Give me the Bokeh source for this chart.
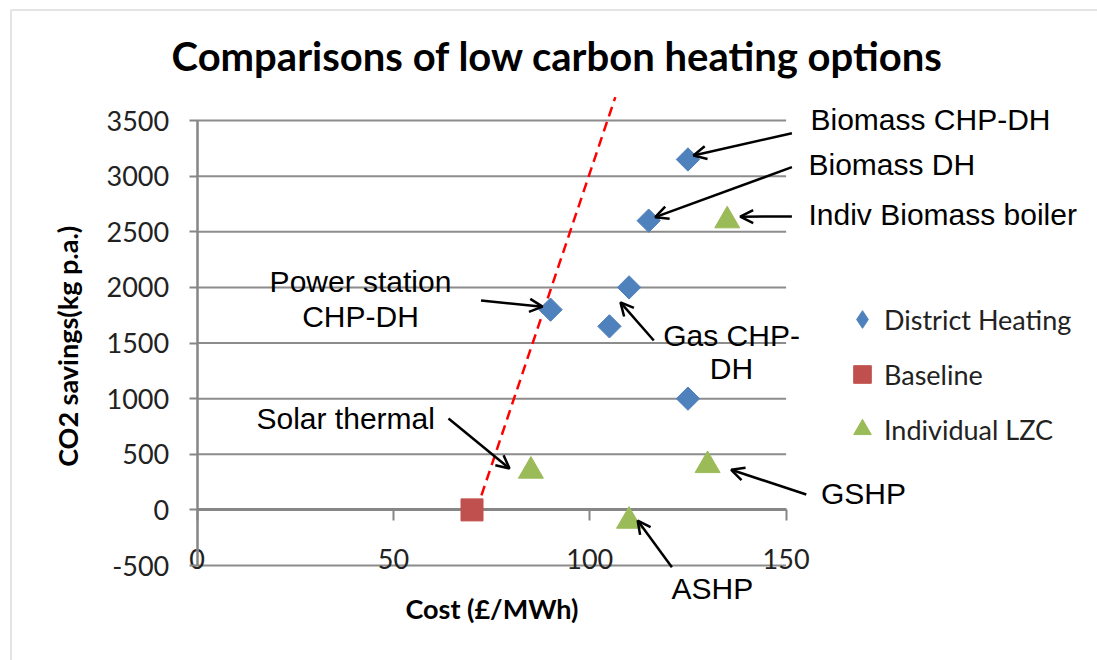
import numpy as np
from bokeh.plotting import figure
from bokeh.models import (Range1d, FixedTicker, LinearAxis, Label, Arrow, OpenHead,
                          Legend, LegendItem, BoxAnnotation, Grid)
from bokeh.embed import file_html
from bokeh.resources import INLINE

# ---------------- data ----------------
title_text = "Comparisons of low carbon heating options"
x_title = "Cost (£/MWh)"
y_title = "CO2 savings(kg  p.a.)"
x_ticks = [0, 50, 100, 150]
y_ticks = [-500, 0, 500, 1000, 1500, 2000, 2500, 3000, 3500]
y_tick_text = {-500: "-500"}

series_names = ["District Heating", "Baseline", "Individual LZC"]

dh_cost = [125, 115, 110, 90, 105, 125]
dh_co2 = [3150, 2600, 2000, 1800, 1650, 1000]

base_cost = [70]
base_co2 = [0]

lzc_cost = [135, 85, 130, 110]
lzc_co2 = [2600, 350, 400, -100]

threshold_cost = [72.4, 106.5]
threshold_co2 = [130, 3710]

annotation_texts = ["Biomass CHP-DH", "Biomass DH", "Indiv Biomass boiler",
                    "Power station", "CHP-DH", "Gas CHP-", "DH",
                    "Solar thermal", "GSHP", "ASHP"]

# ---------------- layout / style ----------------
W, H = 1097, 660
X0_PX, PX_PER_X = 196.7, 3.926      # canvas pixel of cost 0, pixels per cost unit
Y0_PX, PX_PER_Y = 509.4, 0.11125    # canvas pixel of CO2 0, pixels per CO2 unit


def dx(px):
    return (px - X0_PX) / PX_PER_X


def dy(py):
    return (Y0_PX - py) / PX_PER_Y


FONT_UI = "Lato"
FONT_NOTE = "Liberation Sans"
NOTE_SIZE = 30
TITLE_SIZE = 40
AXIS_TITLE_SIZE = 27
BASE_SHIFT = 0.41                   # renderer's baseline shift, in em
GRID = "#8c8c8c"
AXIS = "#868686"

# label placement in canvas pixels (x, baseline y, align)
note_place = [
    (810, 131, "left"),
    (808, 176.7, "left"),
    (808, 226, "left"),
    (360, 293.3, "center"),
    (360, 328, "center"),
    (662.7, 347.3, "left"),
    (731, 380, "center"),
    (256, 430, "left"),
    (820.4, 505, "left"),
    (671, 600.7, "left"),
]

# arrows: tail (canvas px), target series & index, head offset from point (px)
arrow_place = [
    ((791.4, 132.7), "dh", 0, (5.5, -4)),
    ((791.4, 166.7), "dh", 1, (6.5, -3.5)),
    ((791.4, 216.0), "lzc", 0, (13, -4)),
    ((480.5, 300.0), "dh", 3, (-8, -3)),
    ((653.3, 340.0), "dh", 2, (-8.6, 15)),
    ((448.0, 418.0), "lzc", 1, (-21.4, -2.5)),
    ((805.8, 494.0), "lzc", 2, (23.6, 4.4)),
    ((671.4, 566.7), "lzc", 3, (8.6, -0.5)),
]

p = figure(width=W, height=H, output_backend="svg", toolbar_location=None,
           x_range=Range1d(dx(0), dx(W)), y_range=Range1d(dy(H), dy(0)),
           x_axis_location=None, y_axis_location=None,
           min_border=0, min_border_left=0, min_border_right=0,
           min_border_top=0, min_border_bottom=0,
           background_fill_color="white", border_fill_color="white")
p.outline_line_color = None
for obj in list(p.center) + list(p.renderers):
    if isinstance(obj, Grid):
        obj.visible = False

# chart-area border (top and left edges visible)
p.add_layout(BoxAnnotation(left=dx(10.5), top=dy(9.5), right=dx(W + 60), bottom=dy(H + 60),
                           fill_color=None, line_color="#a6a6a6", line_width=2))

# horizontal gridlines drawn from the tick values across the cost range
n = len(y_ticks)
grid = p.segment(x0=[x_ticks[0]] * n, x1=[x_ticks[-1]] * n, y0=y_ticks, y1=y_ticks,
                 line_color=GRID, line_width=2)
grid.level = "underlay"

# y axis at cost = 0
ya = LinearAxis(fixed_location=0, ticker=FixedTicker(ticks=y_ticks), bounds=(-500, 3500),
                major_label_overrides=y_tick_text,
                axis_line_color=AXIS, axis_line_width=2.5,
                major_tick_line_color=AXIS, major_tick_line_width=2,
                major_tick_in=0, major_tick_out=8, minor_tick_line_color=None,
                major_label_text_font=FONT_UI, major_label_text_font_size="27px",
                major_label_text_color="#222222", major_label_standoff=20)
p.add_layout(ya, "left")

# y axis title, centred on the plotted CO2 span
p.add_layout(Label(x=dx(78.5 - BASE_SHIFT * AXIS_TITLE_SIZE), y=(y_ticks[0] + y_ticks[-1]) / 2,
                   text=y_title, angle=np.pi / 2, text_align="center",
                   text_baseline="alphabetic", text_font=FONT_UI, text_font_style="bold",
                   text_font_size=f"{AXIS_TITLE_SIZE}px", text_color="black"))

# horizontal axis crossing at CO2 = 0; its labels sit at the bottom of the plot area
xa = LinearAxis(fixed_location=0, ticker=FixedTicker(ticks=x_ticks), bounds=(0, 150),
                axis_line_color=AXIS, axis_line_width=3,
                major_tick_line_color=AXIS, major_tick_line_width=2,
                major_tick_in=0, major_tick_out=11, minor_tick_line_color=None,
                major_label_text_font=FONT_UI, major_label_text_font_size="27px",
                major_label_text_color="#222222", major_label_standoff=28,
                axis_label=x_title, axis_label_text_font=FONT_UI,
                axis_label_text_font_style="bold",
                axis_label_text_font_size=f"{AXIS_TITLE_SIZE}px",
                axis_label_text_color="black", axis_label_standoff=20)
p.add_layout(xa, "below")

# threshold dashed line
p.line(threshold_cost, threshold_co2, line_color="#ff0000", line_width=2.5,
       line_dash="10 6")

# series
r_dh = p.scatter(dh_cost, dh_co2, marker="square", angle=np.pi / 4, size=16.5,
                 fill_color="#4F81BD", line_color="#4F81BD")
r_base = p.scatter(base_cost, base_co2, marker="square", size=22,
                   fill_color="#C0504D", line_color="#C0504D")
r_lzc = p.scatter(lzc_cost, lzc_co2, marker="triangle", size=25,
                  fill_color="#9BBB59", line_color="#9BBB59")
for r in (r_dh, r_base, r_lzc):
    r.level = "annotation"
# legend key for the diamond series (the legend does not rotate markers)
r_dh_key = p.scatter(dh_cost, dh_co2, marker="diamond", size=20,
                     fill_color="#4F81BD", line_color="#4F81BD", visible=False)

legend = Legend(items=[LegendItem(label=series_names[0], renderers=[r_dh_key]),
                       LegendItem(label=series_names[1], renderers=[r_base]),
                       LegendItem(label=series_names[2], renderers=[r_lzc])],
                location=(840, H - 454), orientation="vertical",
                glyph_width=44, glyph_height=50, label_height=50,
                spacing=5, label_standoff=0, padding=0, margin=0,
                border_line_color=None, background_fill_alpha=0,
                label_text_font=FONT_UI, label_text_font_size="27px",
                label_text_color="#222222")
p.add_layout(legend, "center")

# title
p.add_layout(Label(x=dx(557), y=dy(71.7 - BASE_SHIFT * TITLE_SIZE), text=title_text,
                   text_align="center", text_baseline="alphabetic", text_font=FONT_UI,
                   text_font_style="bold", text_font_size=f"{TITLE_SIZE}px",
                   text_color="black"))

# annotations
for txt, (lx, ly, al) in zip(annotation_texts, note_place):
    p.add_layout(Label(x=dx(lx), y=dy(ly - BASE_SHIFT * NOTE_SIZE), text=txt, text_align=al,
                       text_baseline="alphabetic", text_font=FONT_NOTE,
                       text_font_size=f"{NOTE_SIZE}px", text_color="black"))

pts = {"dh": (dh_cost, dh_co2), "lzc": (lzc_cost, lzc_co2)}
for (tx, ty), key, idx, (ox, oy) in arrow_place:
    xs, ys = pts[key]
    p.add_layout(Arrow(x_start=dx(tx), y_start=dy(ty),
                       x_end=xs[idx] + ox / PX_PER_X, y_end=ys[idx] - oy / PX_PER_Y,
                       line_color="black", line_width=2.5,
                       end=OpenHead(size=13, line_width=2.5, line_color="black")))

open("out.html", "w").write(file_html(p, INLINE))
